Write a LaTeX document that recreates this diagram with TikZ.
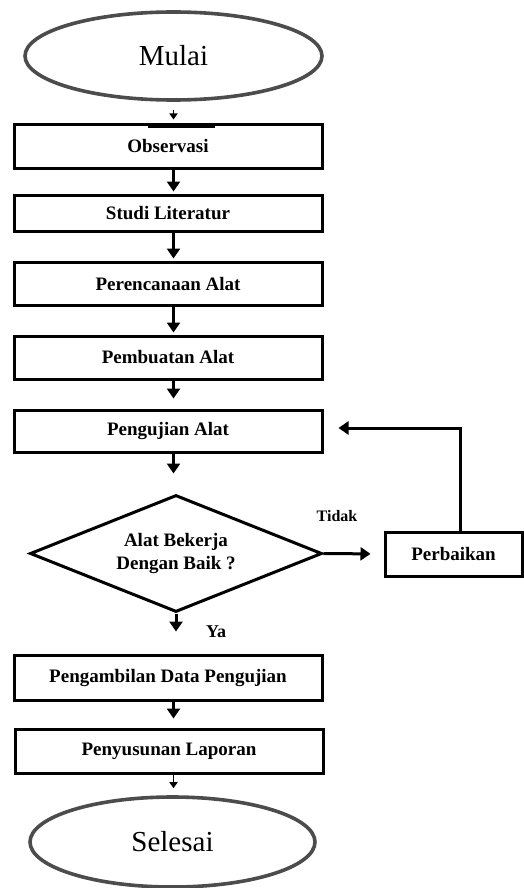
\documentclass[tikz,border=0pt]{standalone}
\usepackage{fontspec}
\setmainfont{Liberation Serif}
\usetikzlibrary{shapes.geometric,arrows.meta,calc}
\tikzset{
  box/.style={draw, line width=3pt, rectangle, inner sep=0pt, minimum width=308pt, minimum height=43pt, font=\fontsize{19}{22}\selectfont\bfseries},
  term/.style={draw=black!70, line width=3.6pt, ellipse, inner sep=0pt, font=\fontsize{29}{32}\selectfont},
  dec/.style={draw, line width=3pt, diamond, aspect=2.5, inner sep=0pt, minimum width=292pt, minimum height=117pt, align=center, font=\fontsize{19}{23}\selectfont\bfseries},
  arr/.style={line width=3pt, -{Triangle[width=13pt,length=10pt]}},
  sarr/.style={line width=1.6pt, -{Triangle[width=8pt,length=6pt]}},
  lbl/.style={font=\fontsize{16}{18}\selectfont\bfseries}
}
\begin{document}
\begin{tikzpicture}[x=1pt,y=-1pt]
\useasboundingbox (0,0) rectangle (523,888);
\node[term, minimum width=297pt, minimum height=88pt] (mulai) at (173.5,56) {Mulai};
\node[box] (obs) at (168,146.5) {Observasi};
\draw[line width=4.5pt] (148,125.5) -- (215,125.5);
\node[box, minimum height=36pt] (stu) at (168,213) {Studi Literatur};
\node[box] (per) at (168,283.5) {Perencanaan Alat};
\node[box] (pem) at (168,357.5) {Pembuatan Alat};
\node[box, minimum height=42pt] (uji) at (168,431) {Pengujian Alat};
\node[dec] (cek) at (176,553.5) {Alat Bekerja\\Dengan Baik ?};
\node[box, minimum width=137pt, minimum height=44pt] (fix) at (453.5,554) {Perbaikan};
\node[box, minimum height=45pt] (amb) at (168,677.5) {Pengambilan Data Pengujian};
\node[box, minimum height=44pt] (sus) at (169,751) {Penyusunan Laporan};
\node[term, minimum width=285pt, minimum height=90pt] (sel) at (172.5,842) {Selesai};
\coordinate (loop) at (460,428);
\node[lbl] (tidak) at (337,516) {Tidak};
\node[lbl, font=\fontsize{18}{20}\selectfont\bfseries] (ya) at (216,632) {Ya};

\draw[sarr, shorten <=8pt, shorten >=4pt] (mulai.south) -- (mulai |- obs.north);
\draw[arr, shorten >=2pt] (mulai |- obs.south) -- (mulai |- stu.north);
\draw[arr, shorten >=2pt] (mulai |- stu.south) -- (mulai |- per.north);
\draw[arr, shorten >=2pt] (mulai |- per.south) -- (mulai |- pem.north);
\draw[arr, shorten >=10pt] (mulai |- pem.south) -- (mulai |- uji.north);
\draw[arr, shorten >=20pt] (mulai |- uji.south) -- (mulai |- cek.north);
\draw[arr, shorten >=13pt] (cek.east) -- (fix.west);
\draw[arr] (fix.north -| loop) -- (loop) -- ([xshift=15pt]uji.east |- loop);
\draw[arr, shorten >=22pt] (cek.south) -- (cek.south |- amb.north);
\draw[arr, shorten >=9pt] (mulai |- amb.south) -- (mulai |- sus.north);
\draw[sarr, shorten >=7pt] (mulai |- sus.south) -- (mulai |- sel.north);
\end{tikzpicture}
\end{document}
